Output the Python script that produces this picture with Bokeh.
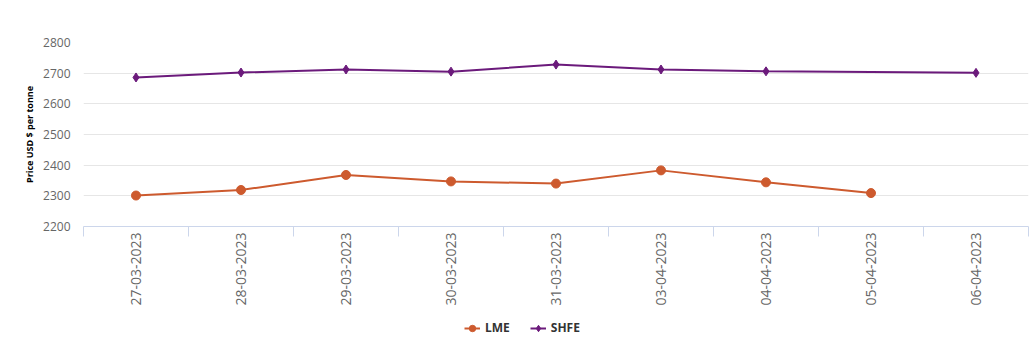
import numpy as np
from bokeh.plotting import figure
from bokeh.layouts import column
from bokeh.models import FixedTicker, Legend, LegendItem, Range1d
from bokeh.embed import file_html
from bokeh.resources import INLINE

dates = ["27-03-2023", "28-03-2023", "29-03-2023", "30-03-2023", "31-03-2023",
         "03-04-2023", "04-04-2023", "05-04-2023", "06-04-2023"]
lme = [2301, 2319, 2368, 2347, 2340, 2383, 2344, 2309, None]
shfe = [2686, 2702, 2712, 2705, 2728, 2712, 2706, None, 2701]
y_ticks = [2200, 2300, 2400, 2500, 2600, 2700, 2800]
series_names = ["LME", "SHFE"]

LME_COLOR = "#cd5a2e"
SHFE_COLOR = "#6b1a7b"

xc = [i + 0.5 for i in range(len(dates))]
lme_x = [x for x, v in zip(xc, lme) if v is not None]
lme_y = [v for v in lme if v is not None]
shfe_x = [x for x, v in zip(xc, shfe) if v is not None]
shfe_y = [v for v in shfe if v is not None]

p = figure(frame_width=945, frame_height=184, output_backend="svg", toolbar_location=None,
           x_range=Range1d(0, len(dates)), y_range=Range1d(2200, 2800),
           min_border_left=83, min_border_right=4, min_border_top=42, min_border_bottom=85)
p.outline_line_color = None
p.background_fill_color = "white"
p.border_fill_color = "white"

l1 = p.line(lme_x, lme_y, line_color=LME_COLOR, line_width=2)
m1 = p.scatter(lme_x, lme_y, marker="circle", size=9, fill_color=LME_COLOR, line_color=LME_COLOR)
l2 = p.line(shfe_x, shfe_y, line_color=SHFE_COLOR, line_width=2)
m2 = p.scatter(shfe_x, shfe_y, marker="diamond", size=9, fill_color=SHFE_COLOR, line_color=SHFE_COLOR)

# x axis
p.xaxis.ticker = FixedTicker(ticks=xc, minor_ticks=list(range(len(dates) + 1)))
p.xaxis.major_label_overrides = {x: d for x, d in zip(xc, dates)}
p.xaxis.major_label_orientation = np.pi / 2
p.xaxis.major_tick_line_color = None
p.xaxis.major_tick_out = 0
p.xaxis.major_tick_in = 0
p.xaxis.minor_tick_line_color = "#ccd6eb"
p.xaxis.minor_tick_out = 10
p.xaxis.minor_tick_in = 0
p.xaxis.axis_line_color = "#ccd6eb"
p.xaxis.major_label_text_color = "#666666"
p.xaxis.major_label_text_font = "Open Sans"
p.xaxis.major_label_text_font_size = "14px"
p.xaxis.major_label_standoff = -4
p.xgrid.grid_line_color = None

# y axis
p.yaxis.ticker = FixedTicker(ticks=y_ticks)
p.yaxis.axis_line_color = None
p.yaxis.major_tick_line_color = None
p.yaxis.major_tick_out = 0
p.yaxis.major_tick_in = 0
p.yaxis.minor_tick_line_color = None
p.yaxis.major_label_text_color = "#666666"
p.yaxis.major_label_text_font = "Open Sans"
p.yaxis.major_label_text_font_size = "12px"
p.yaxis.major_label_standoff = 13
p.yaxis.axis_label = "Price USD $ per tonne"
p.yaxis.axis_label_text_font = "Open Sans"
p.yaxis.axis_label_text_font_style = "bold"
p.yaxis.axis_label_text_font_size = "9px"
p.yaxis.axis_label_text_color = "#000000"
p.yaxis.axis_label_standoff = 4
p.ygrid.grid_line_color = "#e6e6e6"

# legend figure below the chart
lf = figure(width=1032, height=30, output_backend="svg", toolbar_location=None,
            x_range=Range1d(0, 1), y_range=Range1d(0, 1),
            min_border_left=0, min_border_right=0, min_border_top=0, min_border_bottom=0)
lf.axis.visible = False
lf.grid.grid_line_color = None
lf.outline_line_color = None
lf.background_fill_color = "white"
lf.border_fill_color = "white"
ll1 = lf.line([5, 6], [5, 6], line_color=LME_COLOR, line_width=2)
lm1 = lf.scatter([5], [5], marker="circle", size=8, fill_color=LME_COLOR, line_color=LME_COLOR)
ll2 = lf.line([5, 6], [5, 6], line_color=SHFE_COLOR, line_width=2)
lm2 = lf.scatter([5], [5], marker="diamond", size=8, fill_color=SHFE_COLOR, line_color=SHFE_COLOR)

legend = Legend(items=[LegendItem(label=series_names[0], renderers=[ll1, lm1]),
                       LegendItem(label=series_names[1], renderers=[ll2, lm2])],
                orientation="horizontal", location=(381, 5),
                background_fill_alpha=0, border_line_color=None,
                label_text_font="Open Sans", label_text_font_size="12px",
                label_text_color="#333333", label_text_font_style="bold",
                glyph_width=16, glyph_height=16, label_standoff=5,
                spacing=20, padding=2, margin=0)
lf.add_layout(legend, "center")

layout = column(p, lf, spacing=0)
open("out.html", "w").write(file_html(layout, INLINE))
